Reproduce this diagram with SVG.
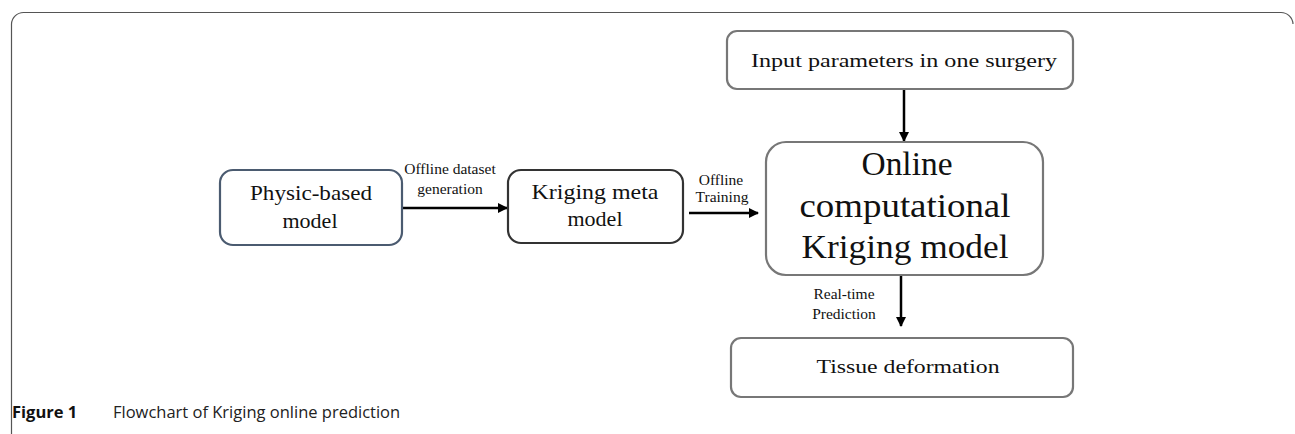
<svg xmlns="http://www.w3.org/2000/svg" width="1295" height="434" viewBox="0 0 1295 434">
<style>
.node rect{fill:#fff;stroke-width:2.2}
.t{font-family:"Liberation Serif",serif;fill:#111;text-anchor:middle}
.lbl{font-family:"Liberation Serif",serif;fill:#111;font-size:15.5px;text-anchor:middle}
.edge{stroke:#000;stroke-width:2.5;fill:none}
.cap{font-family:"Open Sans","Noto Sans",sans-serif;font-size:16.5px;fill:#222}
</style>
<defs>
<marker id="ah" viewBox="0 0 10 10" refX="9" refY="5" markerWidth="4" markerHeight="4" orient="auto" markerUnits="strokeWidth">
<path d="M0,0 L10,5 L0,10 z" fill="#000"/>
</marker>
</defs>
<rect width="1295" height="434" fill="#fff"/>
<path d="M11.5,434 V24 A12,12 0 0 1 23.5,12.5 H1281 A12,12 0 0 1 1293,24" fill="none" stroke="#555" stroke-width="1.2"/>
<g id="connectors">
<line class="edge" x1="402" y1="208" x2="507" y2="208" marker-end="url(#ah)"/>
<line class="edge" x1="689" y1="213" x2="758" y2="213" marker-end="url(#ah)"/>
<line class="edge" x1="904" y1="89" x2="904" y2="141" marker-end="url(#ah)"/>
<line class="edge" x1="901" y1="275" x2="901" y2="326" marker-end="url(#ah)"/>
<text class="lbl" x="450" y="174">Offline dataset</text>
<text class="lbl" x="450" y="194">generation</text>
<text class="lbl" x="721" y="185">Offline</text>
<text class="lbl" x="722" y="202">Training</text>
<text class="lbl" x="844" y="299">Real-time</text>
<text class="lbl" x="844" y="319">Prediction</text>
</g>
<g id="physic" class="node">
<rect x="220" y="170" width="182" height="75" rx="13" stroke="#4b5b70"/>
<text class="t" x="311" y="200" font-size="21" textLength="122" lengthAdjust="spacingAndGlyphs">Physic-based</text>
<text class="t" x="310" y="228" font-size="21" textLength="55" lengthAdjust="spacingAndGlyphs">model</text>
</g>
<g id="kriging-meta" class="node">
<rect x="508" y="170" width="175" height="73" rx="13" stroke="#333"/>
<text class="t" x="595" y="199" font-size="21" textLength="127" lengthAdjust="spacingAndGlyphs">Kriging meta</text>
<text class="t" x="595" y="226" font-size="21" textLength="55" lengthAdjust="spacingAndGlyphs">model</text>
</g>
<g id="input" class="node">
<rect x="727" y="31" width="346" height="58" rx="10" stroke="#777"/>
<text class="t" x="904" y="67" font-size="19" textLength="306" lengthAdjust="spacingAndGlyphs">Input parameters in one surgery</text>
</g>
<g id="online" class="node">
<rect x="766" y="142" width="277" height="133" rx="20" stroke="#777"/>
<text class="t" x="907" y="175" font-size="33" textLength="91" lengthAdjust="spacingAndGlyphs">Online</text>
<text class="t" x="905" y="217" font-size="33" textLength="211" lengthAdjust="spacingAndGlyphs">computational</text>
<text class="t" x="905" y="258" font-size="33" textLength="207" lengthAdjust="spacingAndGlyphs">Kriging model</text>
</g>
<g id="tissue" class="node">
<rect x="731" y="338" width="342" height="59" rx="10" stroke="#777"/>
<text class="t" x="908" y="373" font-size="19" textLength="183" lengthAdjust="spacingAndGlyphs">Tissue deformation</text>
</g>
<text class="cap" x="12" y="418"><tspan font-weight="bold" fill="#111">Figure 1</tspan><tspan x="113">Flowchart of Kriging online prediction</tspan></text>
</svg>
